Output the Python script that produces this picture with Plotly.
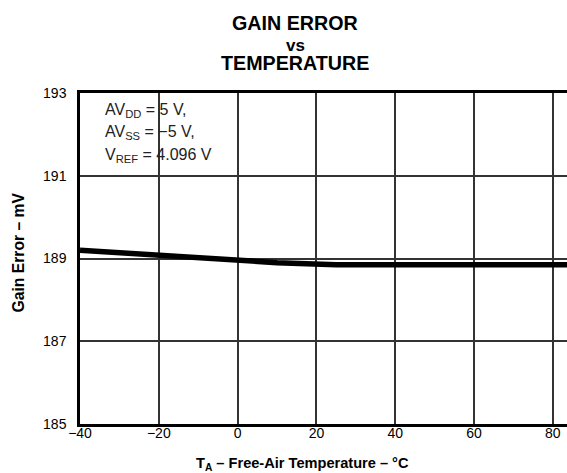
import plotly.graph_objects as go

# Gain error vs free-air temperature
temp_c = [-40, -20, 0, 10, 25, 40, 60, 80, 100, 125]
gain_error_mv = [189.2, 189.08, 188.95, 188.9, 188.85, 188.85, 188.85, 188.85, 188.85, 188.85]

x_ticks = [-40, -20, 0, 20, 40, 60, 80]
y_ticks = [185, 187, 189, 191, 193]

SUB = '<sub style="font-size:85%">{}</sub>'
conditions = [
    "AV" + SUB.format("DD") + " = 5 V,",
    "AV" + SUB.format("SS") + " = \u22125 V,",
    "V" + SUB.format("REF") + " = 4.096 V",
]
title_lines = ["GAIN ERROR", "vs", "TEMPERATURE"]
x_title = "<b>T<sub>A</sub> \u2013 Free-Air Temperature \u2013 \u00b0C</b>"
y_title = "<b>Gain Error \u2013 mV</b>"

FONT = "Liberation Sans, Arial, sans-serif"
# plot area in pixels: left 80, top 93, width 487, height 331
L, T, W, H = 80, 93, 487, 331


def px_x(px):
    return (px - L) / W


def px_y(py):
    return (T + H - py) / H


fig = go.Figure()
fig.add_trace(go.Scatter(
    x=temp_c, y=gain_error_mv, mode="lines",
    line=dict(color="black", width=5.5),
    showlegend=False, hoverinfo="skip",
))

fig.update_layout(
    width=567, height=473,
    margin=dict(l=L, r=567 - L - W, t=T, b=473 - T - H),
    paper_bgcolor="white", plot_bgcolor="white",
    font=dict(family=FONT, color="black", size=14),
    xaxis=dict(
        range=[-40, 83.6], tickvals=x_ticks, automargin=False,
        showgrid=True, gridcolor="#333333", gridwidth=1.5,
        showline=True, linecolor="black", linewidth=2.5, mirror=True,
        ticks="", zeroline=False, tickfont=dict(size=14), ticklabelstandoff=-6,
    ),
    yaxis=dict(
        range=[185, 193], tickvals=y_ticks, automargin=False,
        showgrid=True, gridcolor="#333333", gridwidth=1.5,
        showline=True, linecolor="black", linewidth=2.5,
        ticks="", zeroline=False, tickfont=dict(size=14), ticklabelstandoff=8,
    ),
)

# axis titles
fig.add_annotation(
    text=x_title, xref="paper", yref="paper", x=px_x(302), y=px_y(464),
    showarrow=False, xanchor="center", yanchor="middle",
    font=dict(size=14.6, family=FONT, color="black"),
)
fig.add_annotation(
    text=y_title, xref="paper", yref="paper", x=px_x(17.5), y=px_y(253),
    showarrow=False, xanchor="center", yanchor="middle", textangle=-90,
    font=dict(size=15.7, family=FONT, color="black"),
)

# chart title, three centred lines
title_y = [23, 46, 63.5]
for txt, py, size in zip(title_lines, title_y, [19.7, 17, 19.7]):
    fig.add_annotation(
        text=f"<b>{txt}</b>", xref="paper", yref="paper",
        x=px_x(295), y=px_y(py),
        showarrow=False, xanchor="center", yanchor="middle",
        font=dict(size=size, family=FONT, color="black"),
    )

# test conditions in the upper-left corner
for i, txt in enumerate(conditions):
    fig.add_annotation(
        text=txt, xref="paper", yref="paper",
        x=px_x(103), y=px_y(110 + 22.5 * i),
        showarrow=False, xanchor="left", yanchor="middle",
        font=dict(size=16, family=FONT, color="#222222"),
    )

# drop the default 8px page margin so the figure fills the window exactly
fig.write_html(
    "out.html",
    config={"displayModeBar": False},
    post_script="document.body.style.margin='0';",
)
